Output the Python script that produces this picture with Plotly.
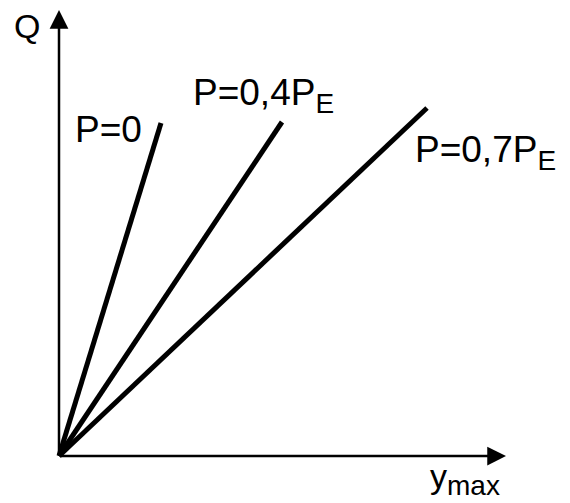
import plotly.graph_objects as go

# Data (arbitrary units: horizontal = y_max, vertical = Q), origin at (0, 0)
series_names = [
    "P=0",
    "P=0,4P<sub><span style='font-size:28px'>E</span></sub>",
    "P=0,7P<sub><span style='font-size:28px'>E</span></sub>",
]
ymax_end = [102, 223, 368]
q_end = [333, 334, 348]

# axis extents (arrow tips)
x_axis_len = 447
y_axis_len = 446

# label anchor positions (data units)
label_x = [14, 132, 354]
label_y = [327, 361, 304]

fig = go.Figure()

for name, xe, ye in zip(series_names, ymax_end, q_end):
    fig.add_trace(go.Scatter(
        x=[0, xe], y=[0, ye], mode="lines",
        line=dict(color="black", width=5),
        showlegend=False, hoverinfo="skip", name=name,
    ))

font = dict(family="Liberation Sans, Arial, sans-serif", color="black")

# axes as arrows
for tip_x, tip_y in [(x_axis_len, 0), (0, y_axis_len)]:
    fig.add_annotation(
        x=tip_x, y=tip_y, ax=0, ay=0, xref="x", yref="y", axref="x", ayref="y",
        text="", showarrow=True, arrowhead=2, arrowsize=1.5, arrowwidth=2.5,
        arrowcolor="black", standoff=0, startstandoff=0,
    )

# axis titles
fig.add_annotation(x=-32, y=430, xref="x", yref="y", text="Q", showarrow=False,
                   xanchor="center", yanchor="middle", font=dict(size=34, **font))
fig.add_annotation(x=369, y=-23, xref="x", yref="y",
                   text="y<sub><span style='font-size:28px'>max</span></sub>", showarrow=False,
                   xanchor="left", yanchor="middle", font=dict(size=34, **font))

# series labels
for name, lx, ly in zip(series_names, label_x, label_y):
    fig.add_annotation(x=lx, y=ly, xref="x", yref="y", text=name, showarrow=False,
                       xanchor="left", yanchor="middle", font=dict(size=37, **font))

fig.update_layout(
    width=570, height=503,
    margin=dict(l=0, r=0, t=0, b=0),
    paper_bgcolor="white", plot_bgcolor="white",
    xaxis=dict(range=[-59, 511], visible=False, fixedrange=True),
    yaxis=dict(range=[-47, 456], visible=False, fixedrange=True),
    showlegend=False,
)

fig.write_html("out.html")
